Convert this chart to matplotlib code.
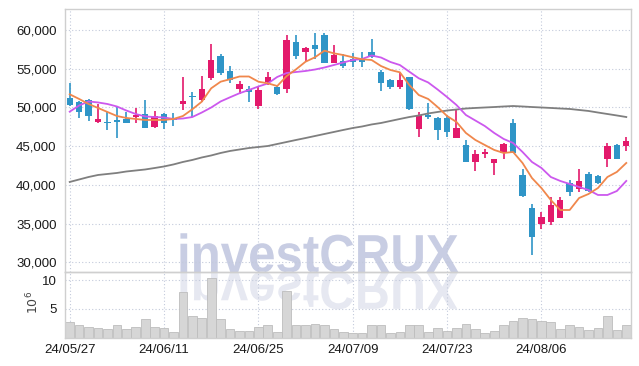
import matplotlib
matplotlib.use('Agg')
import matplotlib.pyplot as plt
from matplotlib.textpath import TextPath
from matplotlib.patches import PathPatch
from matplotlib.font_manager import FontProperties
from matplotlib.transforms import Affine2D
from matplotlib.ticker import FuncFormatter
import numpy as np

# daily candles, 60 trading days (KRW)
opens = [51230, 50710, 50970, 48130, 48170, 48390, 48520, 48770, 49160, 47520,
         49120, 48610, 50410, 51480, 50970, 53850, 56650, 54710, 52350, 52390,
         50190, 53290, 52610, 52390, 58410, 57200, 58070, 59360, 55780, 55960,
         56260, 56300, 57120, 54620, 53550, 52680, 53900, 47190, 49030, 48650,
         48610, 46030, 45160, 43010, 43960, 42880, 44170, 48040, 41290, 37070,
         34970, 35270, 35700, 40300, 39450, 41420, 41160, 43320, 45160, 45030]
highs = [53160, 50840, 51060, 50410, 49460, 50100, 49420, 49900, 50970, 49590,
         49250, 49250, 53970, 52040, 54060, 58160, 56900, 55360, 53460, 52770,
         52810, 54540, 52900, 59360, 59360, 57850, 59650, 59570, 58070, 56900,
         57030, 57120, 58800, 54840, 53680, 54410, 53940, 49460, 50540, 48770,
         49030, 49770, 45810, 44520, 44610, 43360, 45460, 48480, 42030, 37550,
         36560, 38490, 38410, 40650, 42030, 41640, 41290, 45380, 45290, 46160]
lows = [50190, 48650, 48300, 48040, 47100, 46030, 48000, 48040, 47360, 47390,
        47190, 47610, 49680, 48810, 50750, 53550, 54190, 53200, 51740, 50750,
        49770, 52900, 51610, 51910, 56260, 55910, 56260, 55740, 55700, 55060,
        55260, 55260, 56390, 52130, 52350, 52390, 49680, 46160, 48480, 45810,
        46230, 46030, 42930, 41810, 43450, 41290, 43320, 44090, 38490, 30970,
        34280, 34840, 35700, 38580, 39140, 39140, 40130, 42280, 43320, 44430]
closes = [50320, 49460, 48940, 48520, 47960, 48170, 48040, 49030, 47390, 48900,
          47960, 48350, 50840, 51320, 52390, 56130, 54490, 53550, 53030, 52040,
          52260, 53900, 51740, 58710, 56680, 57640, 57550, 55780, 56770, 55390,
          55870, 55910, 56480, 53120, 52680, 53550, 49810, 49030, 48740, 47100,
          46800, 47320, 42930, 44000, 44220, 43360, 45250, 44090, 38620, 33250,
          35830, 37420, 38070, 39140, 40520, 39270, 40220, 45030, 43360, 45680]

# volume, millions of shares
volume = [2.7, 2.2, 1.8, 1.7, 1.5, 2.1, 1.5, 1.8, 3.2, 1.8,
          1.7, 1.0, 7.9, 3.8, 3.4, 10.3, 3.2, 1.5, 1.15, 1.15,
          1.9, 2.1, 1.0, 8.1, 2.2, 2.1, 2.4, 2.2, 1.4, 1.0,
          0.86, 0.86, 2.1, 2.2, 0.7, 1.0, 2.1, 2.2, 1.0, 1.7,
          1.15, 1.7, 2.4, 1.5, 0.8, 1.15, 2.1, 2.9, 3.45, 3.2,
          2.9, 2.7, 1.5, 2.1, 1.9, 1.26, 1.7, 3.8, 1.26, 2.1]

# moving averages as shown on the chart
ma5 = [51700, 51100, 50450, 49940, 49420, 48900, 48650, 48520, 48390, 48390,
       48390, 48520, 48900, 49770, 50750, 52480, 53330, 53650, 54000, 54000,
       53330, 53120, 52770, 54060, 54930, 55910, 56480, 57330, 56990, 56770,
       56480, 56220, 56130, 55350, 54840, 54540, 52900, 51610, 51100, 50060,
       48900, 48130, 46710, 45810, 45160, 44520, 44130, 44260, 42840, 40900,
       39610, 38060, 36770, 36770, 38320, 38840, 39610, 41030, 41680, 42840]
ma20 = [49460, 50260, 50780, 50650, 50450, 50130, 49610, 49160, 48840, 48770,
        48710, 48520, 48580, 48770, 49350, 50000, 50780, 51320, 51840, 52260,
        52710, 53100, 53940, 54450, 54580, 54710, 54900, 55160, 55480, 55810,
        56130, 56260, 56710, 56450, 55870, 55480, 54620, 53770, 53230, 52320,
        51350, 50320, 49030, 48320, 47610, 46710, 45940, 45420, 44260, 42970,
        42200, 41030, 40520, 40130, 39740, 39350, 38710, 38710, 39220, 40520]
ma120 = [40390, 40710, 41030, 41290, 41420, 41550, 41740, 41870, 42000, 42190,
         42390, 42650, 42970, 43230, 43550, 43810, 44130, 44390, 44580, 44770,
         44900, 45030, 45290, 45550, 45810, 46060, 46320, 46580, 46840, 47100,
         47350, 47550, 47810, 48000, 48260, 48520, 48770, 48970, 49230, 49420,
         49610, 49740, 49870, 49940, 50000, 50060, 50130, 50190, 50130, 50060,
         50000, 49940, 49870, 49810, 49680, 49550, 49350, 49160, 48970, 48770]

tick_pos = [0, 10, 20, 30, 40, 50]
tick_labels = ['24/05/27', '24/06/11', '24/06/25', '24/07/09', '24/07/23', '24/08/06']

UP = '#e3196b'
DOWN = '#2f95c7'
GRID = '#c3cadb'
FRAME = '#cfcfcf'

plt.rcParams['font.family'] = ['Liberation Sans', 'DejaVu Sans']

fig = plt.figure(figsize=(6.39, 3.66), dpi=100)
fig.patch.set_facecolor('white')

# watermark behind everything, drawn in pixel coordinates
wm = fig.add_axes([0, 0, 1, 1], zorder=-1)
wm.set_xlim(0, 639)
wm.set_ylim(0, 366)
wm.axis('off')
fp = FontProperties(family='Liberation Sans', weight='bold')
tp = TextPath((0, 0), 'investCRUX', size=53.5, prop=fp)
base_x, base_y = 177, 366 - 272
wm.add_patch(PathPatch(tp, transform=Affine2D().scale(0.92, 1).translate(base_x, base_y) + wm.transData,
                       facecolor='#c8cde3', edgecolor='none'))
wm.add_patch(PathPatch(tp, transform=Affine2D().scale(0.92, -1).translate(base_x, base_y) + wm.transData,
                       facecolor='#e6e8f1', edgecolor='none'))

L, R = 65 / 639, 631 / 639
ax = fig.add_axes([L, 1 - 272 / 366, R - L, (272 - 9) / 366])
axv = fig.add_axes([L, 1 - 337.5 / 366, R - L, (337.5 - 272) / 366], sharex=ax)
for a in (ax, axv):
    a.set_facecolor('none')
    for s in a.spines.values():
        s.set_color(FRAME)
        s.set_linewidth(1.0)
    a.grid(True, linestyle=(0, (1, 2)), color=GRID, linewidth=0.8)
    a.set_axisbelow(True)
    a.tick_params(length=0, colors='#1a1a1a', labelsize=9.5, pad=6)

x = np.arange(len(opens))
o = np.array(opens)
c = np.array(closes)
colors = [UP if cc >= oo else DOWN for oo, cc in zip(o, c)]

ax.vlines(x, lows, highs, colors=colors, linewidth=1.2, zorder=2)
body = np.maximum(np.abs(c - o), 60)
ax.bar(x, body, bottom=np.minimum(o, c), width=0.68, color=colors, zorder=3)

ax.plot(x, ma120, color='#7f7f7f', linewidth=1.3, zorder=4)
ax.plot(x, ma20, color='#cc58ee', linewidth=1.3, zorder=4)
ax.plot(x, ma5, color='#f0874c', linewidth=1.3, zorder=4)

ax.set_xlim(-0.5, 59.5)
ax.set_ylim(28770, 62710)
ax.set_yticks(range(30000, 60001, 5000))
ax.yaxis.set_major_formatter(FuncFormatter(lambda v, p: f'{int(v):,}'))
ax.tick_params(axis='x', labelbottom=False)

axv.bar(x, volume, width=0.92, color='#d6d6d6', edgecolor='#bdbdbd', linewidth=0.6, zorder=2)
axv.set_ylim(0, 11.4)
axv.set_yticks([5, 10])
axv.set_xticks(tick_pos)
axv.set_xticklabels(tick_labels)
axv.tick_params(axis='x', pad=5)
fig.text(33 / 639, 1 - 302 / 366, r'$10^6$', rotation=90, ha='center', va='center',
         fontsize=9, color='#444444')

fig.savefig('out.png', dpi=100)
